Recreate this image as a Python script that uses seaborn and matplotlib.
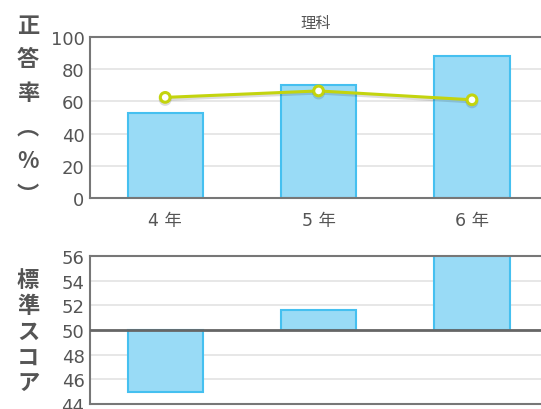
import matplotlib
matplotlib.use("Agg")
import matplotlib.pyplot as plt
import matplotlib.patheffects as pe
import pandas as pd
import seaborn as sns

grades = ["4年", "5年", "6年"]
rate = [53, 70, 88]          # 正答率 bars
rate_line = [62.5, 66.5, 61]  # 正答率 line
score = [45.0, 51.6, 57.0]    # 標準スコア

sns.set_theme(style="white")
plt.rcParams["font.family"] = ["DejaVu Sans", "Noto Sans CJK JP"]

df = pd.DataFrame({"grade": grades, "rate": rate, "line": rate_line, "score": score})

fig = plt.figure(figsize=(5.41, 4.10), dpi=100)
ax1 = fig.add_axes([0.1664, 0.5146, 0.8336, 0.3927])
ax2 = fig.add_axes([0.1664, 0.0122, 0.8336, 0.3610])

fill = "#99dbf6"
edge = "#45c0f0"
gray = "#555555"

sns.barplot(data=df, x="grade", y="rate", ax=ax1, color=fill, saturation=1,
            width=0.49, edgecolor=edge, linewidth=1.5)
ax1.plot(range(len(grades)), df["line"], color="#c3d40e", lw=2.2,
         marker="o", ms=7, mfc="white", mec="#c3d40e", mew=2.2, zorder=5,
         path_effects=[pe.SimpleLineShadow(offset=(0, -1.5), alpha=0.15), pe.Normal()])
ax1.set_ylim(0, 100)
ax1.set_xlim(-0.49, 2.45)
ax1.set_yticks(range(0, 101, 20))
ax1.set_xticks(range(len(grades)))
ax1.set_xticklabels([g[0] + " " + g[1:] for g in grades])
ax1.grid(axis="y", color="#e3e3e3", lw=1.2)
ax1.set_axisbelow(True)
ax1.set_xlabel("")
ax1.set_ylabel("")
ax1.set_title("理科", fontsize=11, color=gray, pad=7, family="Noto Sans CJK JP")
ax1.tick_params(axis="y", labelsize=13, colors=gray, length=0, pad=4)
ax1.tick_params(axis="x", labelsize=12.5, colors=gray, length=0, pad=9)

sns.barplot(data=df, x="grade", y=[s - 50 for s in score], ax=ax2, color=fill,
            saturation=1, width=0.49, edgecolor=edge, linewidth=1.5)
for p in ax2.patches:
    p.set_y(p.get_y() + 50)
ax2.set_ylim(44, 56)
ax2.set_xlim(-0.49, 2.45)
ax2.set_yticks(range(44, 57, 2))
ax2.grid(axis="y", color="#e3e3e3", lw=1.2)
ax2.set_axisbelow(True)
ax2.axhline(50, color="#666666", lw=2, zorder=6)
ax2.set_xticklabels([])
ax2.set_xlabel("")
ax2.set_ylabel("")
ax2.tick_params(axis="y", labelsize=13, colors=gray, length=0, pad=4)
ax2.tick_params(axis="x", length=0)

for ax in (ax1, ax2):
    for side in ("left", "bottom", "top"):
        ax.spines[side].set_color("#777777")
        ax.spines[side].set_linewidth(1.5)
    ax.spines["right"].set_visible(False)

fig.text(0.052, 0.73, "正\n答\n率\n︵\n%\n︶", ha="center", va="center",
         fontsize=16, fontweight="bold", color=gray, linespacing=1.6,
         family=["Noto Sans CJK JP", "DejaVu Sans"])
fig.text(0.052, 0.19, "標\n準\nス\nコ\nア", ha="center", va="center",
         fontsize=16, fontweight="bold", color=gray, linespacing=1.15,
         family=["Noto Sans CJK JP", "DejaVu Sans"])

fig.savefig("out.png", dpi=100)
